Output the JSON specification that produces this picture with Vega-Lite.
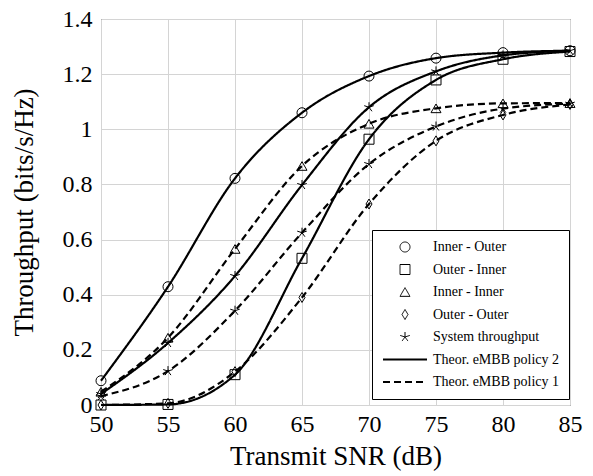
{
  "$schema": "https://vega.github.io/schema/vega-lite/v6.json",
  "width": 469,
  "height": 386,
  "autosize": {"type": "none"},
  "padding": {"left": 101, "top": 19, "right": 23, "bottom": 71},
  "config": {
    "font": "Liberation Serif",
    "view": {"stroke": "#222222", "strokeWidth": 1},
    "axis": {
      "grid": true, "gridColor": "#d4d4d4", "gridWidth": 1, "domain": false, "ticks": false,
      "labelFont": "Liberation Serif", "labelFontSize": 24, "labelColor": "black", "labelFlush": false,
      "titleFont": "Liberation Serif", "titleFontSize": 27, "titleFontWeight": "normal", "titleColor": "black"
    },
    "legend": {
      "orient": "none", "legendX": 271, "legendY": 211, "padding": 10,
      "fillColor": "white", "strokeColor": "black",
      "labelFont": "Liberation Serif", "labelFontSize": 14, "labelColor": "black",
      "symbolSize": 100, "symbolStrokeColor": "black", "symbolFillColor": "transparent",
      "symbolOffset": 16, "labelOffset": 21, "rowPadding": 8.5
    }
  },
  "datasets": {
    "curves": [
      {"curve": "IO", "leg": "Theor. eMBB policy 2", "x": 50, "y": 0.088},
      {"curve": "IO", "leg": "Theor. eMBB policy 2", "x": 55, "y": 0.429},
      {"curve": "IO", "leg": "Theor. eMBB policy 2", "x": 60, "y": 0.822},
      {"curve": "IO", "leg": "Theor. eMBB policy 2", "x": 65, "y": 1.06},
      {"curve": "IO", "leg": "Theor. eMBB policy 2", "x": 70, "y": 1.193},
      {"curve": "IO", "leg": "Theor. eMBB policy 2", "x": 75, "y": 1.258},
      {"curve": "IO", "leg": "Theor. eMBB policy 2", "x": 80, "y": 1.278},
      {"curve": "IO", "leg": "Theor. eMBB policy 2", "x": 85, "y": 1.285},
      {"curve": "OI", "leg": "Theor. eMBB policy 2", "x": 50, "y": 0.0},
      {"curve": "OI", "leg": "Theor. eMBB policy 2", "x": 55, "y": 0.002},
      {"curve": "OI", "leg": "Theor. eMBB policy 2", "x": 60, "y": 0.11},
      {"curve": "OI", "leg": "Theor. eMBB policy 2", "x": 65, "y": 0.532},
      {"curve": "OI", "leg": "Theor. eMBB policy 2", "x": 70, "y": 0.964},
      {"curve": "OI", "leg": "Theor. eMBB policy 2", "x": 75, "y": 1.179},
      {"curve": "OI", "leg": "Theor. eMBB policy 2", "x": 80, "y": 1.254},
      {"curve": "OI", "leg": "Theor. eMBB policy 2", "x": 85, "y": 1.282},
      {"curve": "S2", "leg": "Theor. eMBB policy 2", "x": 50, "y": 0.04},
      {"curve": "S2", "leg": "Theor. eMBB policy 2", "x": 55, "y": 0.225},
      {"curve": "S2", "leg": "Theor. eMBB policy 2", "x": 60, "y": 0.468},
      {"curve": "S2", "leg": "Theor. eMBB policy 2", "x": 65, "y": 0.798},
      {"curve": "S2", "leg": "Theor. eMBB policy 2", "x": 70, "y": 1.08},
      {"curve": "S2", "leg": "Theor. eMBB policy 2", "x": 75, "y": 1.21},
      {"curve": "S2", "leg": "Theor. eMBB policy 2", "x": 80, "y": 1.268},
      {"curve": "S2", "leg": "Theor. eMBB policy 2", "x": 85, "y": 1.285},
      {"curve": "II", "leg": "Theor. eMBB policy 1", "x": 50, "y": 0.048},
      {"curve": "II", "leg": "Theor. eMBB policy 1", "x": 55, "y": 0.244},
      {"curve": "II", "leg": "Theor. eMBB policy 1", "x": 60, "y": 0.566},
      {"curve": "II", "leg": "Theor. eMBB policy 1", "x": 65, "y": 0.867},
      {"curve": "II", "leg": "Theor. eMBB policy 1", "x": 70, "y": 1.02},
      {"curve": "II", "leg": "Theor. eMBB policy 1", "x": 75, "y": 1.076},
      {"curve": "II", "leg": "Theor. eMBB policy 1", "x": 80, "y": 1.094},
      {"curve": "II", "leg": "Theor. eMBB policy 1", "x": 85, "y": 1.095},
      {"curve": "OO", "leg": "Theor. eMBB policy 1", "x": 50, "y": 0.0},
      {"curve": "OO", "leg": "Theor. eMBB policy 1", "x": 55, "y": 0.006},
      {"curve": "OO", "leg": "Theor. eMBB policy 1", "x": 60, "y": 0.121},
      {"curve": "OO", "leg": "Theor. eMBB policy 1", "x": 65, "y": 0.39},
      {"curve": "OO", "leg": "Theor. eMBB policy 1", "x": 70, "y": 0.729},
      {"curve": "OO", "leg": "Theor. eMBB policy 1", "x": 75, "y": 0.958},
      {"curve": "OO", "leg": "Theor. eMBB policy 1", "x": 80, "y": 1.052},
      {"curve": "OO", "leg": "Theor. eMBB policy 1", "x": 85, "y": 1.09},
      {"curve": "S1", "leg": "Theor. eMBB policy 1", "x": 50, "y": 0.032},
      {"curve": "S1", "leg": "Theor. eMBB policy 1", "x": 55, "y": 0.123},
      {"curve": "S1", "leg": "Theor. eMBB policy 1", "x": 60, "y": 0.342},
      {"curve": "S1", "leg": "Theor. eMBB policy 1", "x": 65, "y": 0.625},
      {"curve": "S1", "leg": "Theor. eMBB policy 1", "x": 70, "y": 0.874},
      {"curve": "S1", "leg": "Theor. eMBB policy 1", "x": 75, "y": 1.01},
      {"curve": "S1", "leg": "Theor. eMBB policy 1", "x": 80, "y": 1.075},
      {"curve": "S1", "leg": "Theor. eMBB policy 1", "x": 85, "y": 1.093}
    ],
    "markers": [
      {"leg": "Inner - Outer", "x": 50, "y": 0.088},
      {"leg": "Inner - Outer", "x": 55, "y": 0.429},
      {"leg": "Inner - Outer", "x": 60, "y": 0.822},
      {"leg": "Inner - Outer", "x": 65, "y": 1.06},
      {"leg": "Inner - Outer", "x": 70, "y": 1.193},
      {"leg": "Inner - Outer", "x": 75, "y": 1.258},
      {"leg": "Inner - Outer", "x": 80, "y": 1.278},
      {"leg": "Inner - Outer", "x": 85, "y": 1.285},
      {"leg": "Outer - Inner", "x": 50, "y": 0.0},
      {"leg": "Outer - Inner", "x": 55, "y": 0.002},
      {"leg": "Outer - Inner", "x": 60, "y": 0.11},
      {"leg": "Outer - Inner", "x": 65, "y": 0.532},
      {"leg": "Outer - Inner", "x": 70, "y": 0.964},
      {"leg": "Outer - Inner", "x": 75, "y": 1.179},
      {"leg": "Outer - Inner", "x": 80, "y": 1.254},
      {"leg": "Outer - Inner", "x": 85, "y": 1.282},
      {"leg": "Inner - Inner", "x": 50, "y": 0.048},
      {"leg": "Inner - Inner", "x": 55, "y": 0.244},
      {"leg": "Inner - Inner", "x": 60, "y": 0.566},
      {"leg": "Inner - Inner", "x": 65, "y": 0.867},
      {"leg": "Inner - Inner", "x": 70, "y": 1.02},
      {"leg": "Inner - Inner", "x": 75, "y": 1.076},
      {"leg": "Inner - Inner", "x": 80, "y": 1.094},
      {"leg": "Inner - Inner", "x": 85, "y": 1.095},
      {"leg": "Outer - Outer", "x": 50, "y": 0.0},
      {"leg": "Outer - Outer", "x": 55, "y": 0.006},
      {"leg": "Outer - Outer", "x": 60, "y": 0.121},
      {"leg": "Outer - Outer", "x": 65, "y": 0.39},
      {"leg": "Outer - Outer", "x": 70, "y": 0.729},
      {"leg": "Outer - Outer", "x": 75, "y": 0.958},
      {"leg": "Outer - Outer", "x": 80, "y": 1.052},
      {"leg": "Outer - Outer", "x": 85, "y": 1.09},
      {"leg": "System throughput", "x": 50, "y": 0.04},
      {"leg": "System throughput", "x": 55, "y": 0.225},
      {"leg": "System throughput", "x": 60, "y": 0.468},
      {"leg": "System throughput", "x": 65, "y": 0.798},
      {"leg": "System throughput", "x": 70, "y": 1.08},
      {"leg": "System throughput", "x": 75, "y": 1.21},
      {"leg": "System throughput", "x": 80, "y": 1.268},
      {"leg": "System throughput", "x": 85, "y": 1.285},
      {"leg": "System throughput", "x": 50, "y": 0.032},
      {"leg": "System throughput", "x": 55, "y": 0.123},
      {"leg": "System throughput", "x": 60, "y": 0.342},
      {"leg": "System throughput", "x": 65, "y": 0.625},
      {"leg": "System throughput", "x": 70, "y": 0.874},
      {"leg": "System throughput", "x": 75, "y": 1.01},
      {"leg": "System throughput", "x": 80, "y": 1.075},
      {"leg": "System throughput", "x": 85, "y": 1.093}
    ]
  },
  "encoding": {
    "x": {
      "field": "x", "type": "quantitative",
      "scale": {"domain": [50, 85], "nice": false},
      "axis": {"values": [50, 55, 60, 65, 70, 75, 80, 85], "title": "Transmit SNR (dB)", "labelPadding": 7, "titlePadding": 7}
    },
    "y": {
      "field": "y", "type": "quantitative",
      "scale": {"domain": [0, 1.4], "nice": false},
      "axis": {"values": [0, 0.2, 0.4, 0.6, 0.8, 1, 1.2, 1.4], "format": "~g", "title": "Throughput (bits/s/Hz)", "labelPadding": 9, "titlePadding": 24}
    }
  },
  "layer": [
    {
      "data": {"name": "curves"},
      "mark": {"type": "line", "interpolate": "monotone", "color": "black", "strokeCap": "butt"},
      "encoding": {
        "detail": {"field": "curve", "type": "nominal"},
        "strokeDash": {
          "field": "leg", "type": "nominal",
          "scale": {
            "domain": ["Inner - Outer", "Outer - Inner", "Inner - Inner", "Outer - Outer", "System throughput", "Theor. eMBB policy 2", "Theor. eMBB policy 1"],
            "range": [[1, 0], [1, 0], [1, 0], [1, 0], [1, 0], [1, 0], [7, 4]]
          },
          "legend": {"title": null}
        },
        "strokeWidth": {
          "field": "leg", "type": "nominal",
          "scale": {
            "type": "ordinal",
            "domain": ["Inner - Outer", "Outer - Inner", "Inner - Inner", "Outer - Outer", "System throughput", "Theor. eMBB policy 2", "Theor. eMBB policy 1"],
            "range": [1, 1, 1, 1, 1, 2.2, 2.2]
          },
          "legend": {"title": null}
        }
      }
    },
    {
      "data": {"name": "markers"},
      "mark": {"type": "point", "filled": false, "color": "black", "size": 100, "opacity": 1},
      "encoding": {
        "shape": {
          "field": "leg", "type": "nominal",
          "scale": {
            "domain": ["Inner - Outer", "Outer - Inner", "Inner - Inner", "Outer - Outer", "System throughput", "Theor. eMBB policy 2", "Theor. eMBB policy 1"],
            "range": ["circle", "square", "triangle-up", "M0,-1L0.6,0L0,1L-0.6,0Z", "M0,0L0,-1M0,0L-0.951,-0.309M0,0L-0.588,0.809M0,0L0.588,0.809M0,0L0.951,-0.309", "M-4.4,0H4.4", "M-4.4,0H4.4"]
          },
          "legend": {"title": null}
        },
        "strokeWidth": {
          "field": "leg", "type": "nominal",
          "scale": {
            "type": "ordinal",
            "domain": ["Inner - Outer", "Outer - Inner", "Inner - Inner", "Outer - Outer", "System throughput", "Theor. eMBB policy 2", "Theor. eMBB policy 1"],
            "range": [1, 1, 1, 1, 1, 2.2, 2.2]
          },
          "legend": {"title": null}
        }
      }
    }
  ]
}
